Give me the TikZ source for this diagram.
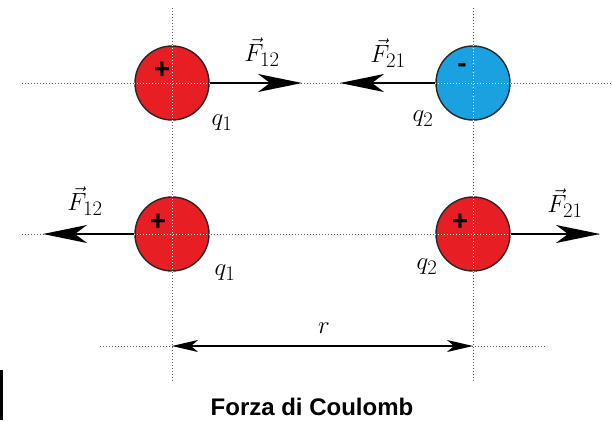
\documentclass[tikz,border=0pt]{standalone}
\usepackage{fontspec}
\newfontfamily\titlefont{Liberation Sans}
\usetikzlibrary{arrows.meta}
\definecolor{chargeRed}{HTML}{E81E25}
\definecolor{chargeBlue}{HTML}{1BA0E0}
\definecolor{guideGray}{HTML}{5E5E5E}

\begin{document}
\begin{tikzpicture}[x=1pt, y=-1pt, font=\fontsize{24.88}{28}\selectfont, >=Stealth,
  charge/.style={circle, draw=black!85, line width=1.4pt, minimum size=74pt, inner sep=0pt},
  guide/.style={guideGray, dotted, line width=1pt},
  force/.style={line width=1.5pt, -{Stealth[length=44pt,width=18pt,inset=12pt]}},
  sign/.style={font=\titlefont\bfseries\fontsize{28}{28}\selectfont, inner sep=0pt}]
\useasboundingbox (0,0) rectangle (612,420);
% ---------- dotted guide lines ----------
\draw[guide] (172,8)--(172,382);
\draw[guide] (473,8)--(473,382);
\draw[guide] (22,83)--(612,83);
\draw[guide] (22,234)--(600,234);
\draw[guide] (100,346)--(547,346);
% ---------- charges ----------
\node[charge, fill=chargeRed]  (qTopL) at (172,83)  {};
\node[charge, fill=chargeBlue] (qTopR) at (473,83)  {};
\node[charge, fill=chargeRed]  (qBotL) at (172,234) {};
\node[charge, fill=chargeRed]  (qBotR) at (473,234) {};
\foreach \q in {qTopL,qTopR,qBotL,qBotR}
  \draw[white, dotted, line width=1pt] (\q.west)--(\q.east) (\q.north)--(\q.south);
\node[sign] (sTopL) at (162,70)  {+};
\node[sign] (sTopR) at (462,68)  {-};
\node[sign] (sBotL) at (158,222) {+};
\node[sign] (sBotR) at (460,222) {+};
% ---------- forces ----------
\coordinate (fTopL) at (302,83);
\coordinate (fTopR) at (340,83);
\coordinate (fBotL) at (43,234);
\coordinate (fBotR) at (600,234);
\draw[force] (qTopL.east) -- (fTopL);
\draw[force] (qTopR.west) -- (fTopR);
\draw[force] (qBotL.west) -- (fBotL);
\draw[force] (qBotR.east) -- (fBotR);
\node (lTopL) at (262,52)  {$\vec{F}_{12}$};
\node (lTopR) at (388,53)  {$\vec{F}_{21}$};
\node (lBotL) at (85,201)  {$\vec{F}_{12}$};
\node (lBotR) at (565,203) {$\vec{F}_{21}$};
\node (nTopL) at (222,123) {$q_1$};
\node (nTopR) at (423,119) {$q_2$};
\node (nBotL) at (225,273) {$q_1$};
\node (nBotR) at (427,267) {$q_2$};
% ---------- distance ----------
\coordinate (rL) at (172,346);
\coordinate (rR) at (473,346);
\draw[line width=1.1pt, {Stealth[length=26pt,width=12pt,inset=7pt]}-{Stealth[length=26pt,width=12pt,inset=7pt]}] (rL) -- (rR);
\node (rLabel) at (324,328) {$r$};
% ---------- caption ----------
\node[font=\titlefont\bfseries\fontsize{24}{28}\selectfont, anchor=base] (title) at (312,415) {Forza di Coulomb};
\fill (0,370) rectangle (3,420);
\end{tikzpicture}
\end{document}
